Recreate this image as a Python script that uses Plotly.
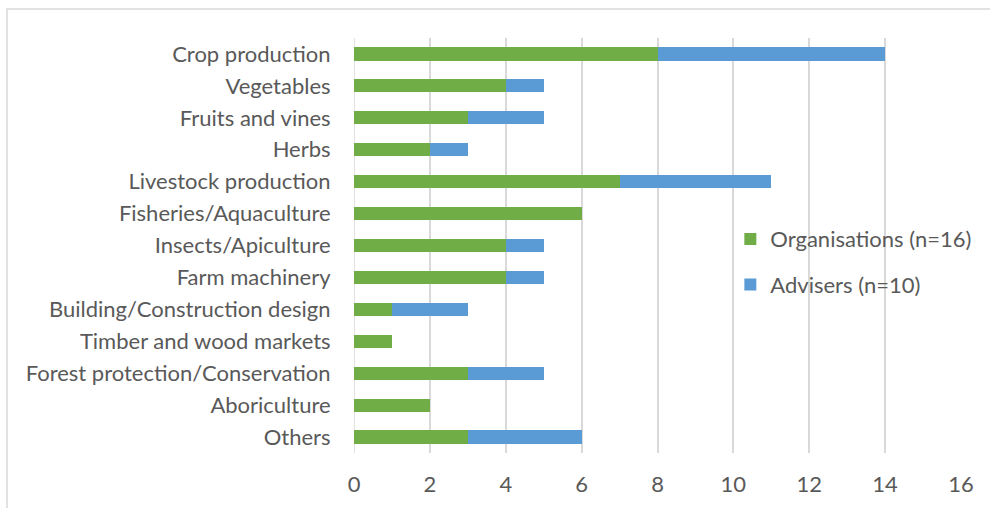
import plotly.graph_objects as go

# Categories listed top to bottom
categories = [
    "Crop production",
    "Vegetables",
    "Fruits and vines",
    "Herbs",
    "Livestock production",
    "Fisheries/Aquaculture",
    "Insects/Apiculture",
    "Farm machinery",
    "Building/Construction design",
    "Timber and wood markets",
    "Forest protection/Conservation",
    "Aboriculture",
    "Others",
]
organisations = [8, 4, 3, 2, 7, 6, 4, 4, 1, 1, 3, 2, 3]
advisers = [6, 1, 2, 1, 4, 0, 1, 1, 2, 0, 2, 0, 3]
x_ticks = [0, 2, 4, 6, 8, 10, 12, 14, 16]

GREEN = "#70AD47"
BLUE = "#5B9BD5"
TEXT = "#595959"
GRID = "#D9D9D9"
FONT = "Lato"
FS = 22

fig = go.Figure()
fig.add_trace(go.Bar(
    y=categories, x=organisations, orientation="h",
    name="Organisations (n=16)", legendgroup="org",
    marker=dict(color=GREEN, line=dict(width=0)),
))
fig.add_trace(go.Bar(
    y=categories, x=advisers, orientation="h",
    name="Advisers (n=10)", legendgroup="adv",
    marker=dict(color=BLUE, line=dict(width=0)),
))

L, R, T, B = 354, 29, 38, 55
W, H = 990, 508
pw, ph = W - L - R, H - T - B

fig.update_layout(
    width=W, height=H,
    barmode="stack", bargap=0.59,
    margin=dict(l=L, r=R, t=T, b=B, pad=0),
    paper_bgcolor="white", plot_bgcolor="white",
    font=dict(family=FONT, size=FS, color=TEXT),
    showlegend=True,
    legend=dict(
        x=0.62, y=0.46, xanchor="left", yanchor="middle",
        traceorder="grouped", tracegroupgap=14,
        font=dict(size=FS, color=TEXT),
        bgcolor="rgba(0,0,0,0)",
    ),
    xaxis=dict(
        range=[0, 16], tickvals=x_ticks, showgrid=True, gridcolor=GRID,
        gridwidth=1.5, zeroline=False, showline=False,
        ticks="outside", ticklen=12, tickcolor="rgba(0,0,0,0)",
        tickfont=dict(size=FS, color=TEXT),
    ),
    yaxis=dict(
        categoryorder="array", categoryarray=categories[::-1],
        autorange=False, range=[-0.5, len(categories) - 0.5],
        showgrid=False, zeroline=False,
        showline=False,
        ticks="outside", ticklen=18, tickcolor="rgba(0,0,0,0)",
        tickfont=dict(size=FS, color=TEXT),
    ),
    shapes=[
        # vertical axis line at x = 0
        dict(type="line", xref="x", yref="paper", x0=0, x1=0, y0=0, y1=1,
             line=dict(color=GRID, width=1.5), layer="below"),
        # chart frame, running past the right and bottom edges
        dict(type="rect", xref="paper", yref="paper",
             x0=(7 - L) / pw, x1=(1000 - L) / pw,
             y0=(ph + T - 515) / ph, y1=1 + (T - 9) / ph,
             line=dict(color=GRID, width=1.5), fillcolor="rgba(0,0,0,0)",
             layer="below"),
    ],
)

fig.write_html("out.html")
